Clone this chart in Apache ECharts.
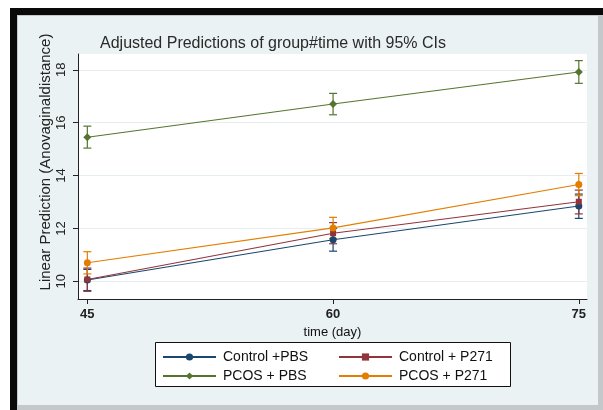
<!DOCTYPE html>
<html>
<head>
<meta charset="utf-8">
<script src="https://cdn.jsdelivr.net/npm/echarts@6/dist/echarts.min.js"></script>
<style>html,body{margin:0;padding:0;background:#fff}#c{width:603px;height:410px}</style>
</head>
<body>
<div id="c"></div>
<script>
// ---- data ----
var days = [45, 60, 75];
var xTicks = [45, 60, 75];
var yTicks = [10, 12, 14, 16, 18];
var seriesNames = ['Control +PBS', 'Control + P271', 'PCOS + PBS', 'PCOS + P271'];
var controlPBS = [10.05, 11.57, 12.85];
var controlPBSLow = [9.65, 11.14, 12.38];
var controlPBSHigh = [10.45, 12.00, 13.30];
var controlP271 = [10.07, 11.82, 13.01];
var controlP271Low = [9.62, 11.42, 12.55];
var controlP271High = [10.50, 12.22, 13.45];
var pcosPBS = [15.45, 16.71, 17.92];
var pcosPBSLow = [15.04, 16.30, 17.49];
var pcosPBSHigh = [15.87, 17.11, 18.35];
var pcosP271 = [10.70, 12.02, 13.66];
var pcosP271Low = [10.28, 11.62, 13.24];
var pcosP271High = [11.12, 12.42, 14.08];

var colors = ['#1a476f', '#90353b', '#55752f', '#e37e00'];
var symbols = ['circle', 'rect', 'diamond', 'circle'];
var means = [controlPBS, controlP271, pcosPBS, pcosP271];
var lows = [controlPBSLow, controlP271Low, pcosPBSLow, pcosP271Low];
var highs = [controlPBSHigh, controlP271High, pcosPBSHigh, pcosP271High];

var chart = echarts.init(document.getElementById('c'), null, {renderer: 'canvas'});

var series = [];
// error bars
means.forEach(function (m, i) {
  series.push({
    type: 'custom',
    name: seriesNames[i] + ' CI',
    z: 2,
    data: days.map(function (d, k) { return [d, lows[i][k], highs[i][k]]; }),
    encode: {x: 0, y: [1, 2]},
    renderItem: function (params, api) {
      var x = api.value(0);
      var lo = api.coord([x, api.value(1)]);
      var hi = api.coord([x, api.value(2)]);
      var hw = 4;
      var st = {stroke: colors[i], lineWidth: 1.2};
      return {
        type: 'group',
        children: [
          {type: 'line', shape: {x1: lo[0], y1: lo[1], x2: hi[0], y2: hi[1]}, style: st},
          {type: 'line', shape: {x1: lo[0] - hw, y1: lo[1], x2: lo[0] + hw, y2: lo[1]}, style: st},
          {type: 'line', shape: {x1: hi[0] - hw, y1: hi[1], x2: hi[0] + hw, y2: hi[1]}, style: st}
        ]
      };
    }
  });
});
means.forEach(function (m, i) {
  series.push({
    type: 'line',
    name: seriesNames[i],
    z: 3,
    data: days.map(function (d, k) { return [d, m[k]]; }),
    symbol: symbols[i],
    symbolSize: symbols[i] === 'diamond' ? 8 : (symbols[i] === 'rect' ? 6 : 7),
    showSymbol: true,
    itemStyle: {color: colors[i]},
    lineStyle: {color: colors[i], width: 1.1},
    emphasis: {disabled: true},
    animation: false
  });
});

var legendCommon = {
  orient: 'vertical',
  itemWidth: 53,
  itemHeight: 9,
  itemGap: 3,
  padding: 0,
  textStyle: {fontFamily: 'Liberation Sans, Arial, sans-serif', fontSize: 14, color: '#111', lineHeight: 16, padding: [0, 0, 0, 2]},
  selectedMode: false
};

chart.setOption({
  animation: false,
  backgroundColor: 'transparent',
  graphic: [
    {type: 'rect', z: -100, silent: true, shape: {x: 0, y: 0, width: 603, height: 410}, style: {fill: '#ffffff'}},
    {type: 'rect', z: -99, silent: true, shape: {x: 10, y: 8, width: 593, height: 402}, style: {fill: '#0a0a0a'}},
    {type: 'rect', z: -98, silent: true, shape: {x: 17, y: 15, width: 586, height: 395}, style: {fill: '#c4c8ca'}},
    {type: 'rect', z: -97, silent: true, shape: {x: 18, y: 16, width: 580, height: 389}, style: {fill: '#eaf2f3'}},
    {type: 'rect', z: -96, silent: true, shape: {x: 155.5, y: 342.5, width: 355, height: 44}, style: {fill: '#ffffff', stroke: '#111', lineWidth: 1}},
    {type: 'text', z: 10, silent: true, x: 46, y: 162, rotation: Math.PI / 2,
      style: {text: 'Linear Prediction (Anovaginaldistance)', fontFamily: 'Liberation Sans, Arial, sans-serif', fontSize: 15, fill: '#222', align: 'center', verticalAlign: 'middle'}}
  ],
  title: {
    text: 'Adjusted Predictions of group#time with 95% CIs',
    left: 100, top: 36, padding: 0,
    textStyle: {fontFamily: 'Liberation Sans, Arial, sans-serif', fontSize: 16, fontWeight: 'normal', color: '#2a2a2a'}
  },
  legend: [
    Object.assign({}, legendCommon, {left: 162, top: 349, data: [seriesNames[0], seriesNames[2]]}),
    Object.assign({}, legendCommon, {left: 338, top: 349, data: [seriesNames[1], seriesNames[3]]})
  ],
  grid: {left: 78, top: 54, right: 16, bottom: 111, show: true, backgroundColor: '#ffffff', borderWidth: 0, containLabel: false},
  xAxis: {
    type: 'value', min: 44.43, max: 75.5,
    name: 'time (day)', nameLocation: 'middle', nameGap: 18,
    nameTextStyle: {fontFamily: 'Liberation Sans, Arial, sans-serif', fontSize: 13, color: '#111'},
    axisLine: {show: true, onZero: false, lineStyle: {color: '#222', width: 1}},
    axisTick: {show: true, length: 5, customValues: xTicks, lineStyle: {color: '#222'}},
    axisLabel: {customValues: xTicks, margin: 9, fontFamily: 'Liberation Sans, Arial, sans-serif', fontSize: 13, color: '#222', fontWeight: 'bold'},
    splitLine: {show: false}
  },
  yAxis: {
    type: 'value', min: 9.33, max: 18.6,
    axisLine: {show: true, onZero: false, lineStyle: {color: '#222', width: 1}},
    axisTick: {show: true, length: 5, customValues: yTicks, lineStyle: {color: '#222'}},
    axisLabel: {customValues: yTicks, rotate: 90, margin: 10, fontFamily: 'Liberation Sans, Arial, sans-serif', fontSize: 13, color: '#222'},
    splitLine: {show: true, customValues: yTicks, lineStyle: {color: '#e6eef1', width: 1}}
  },
  series: series
});
</script>
</body>
</html>
